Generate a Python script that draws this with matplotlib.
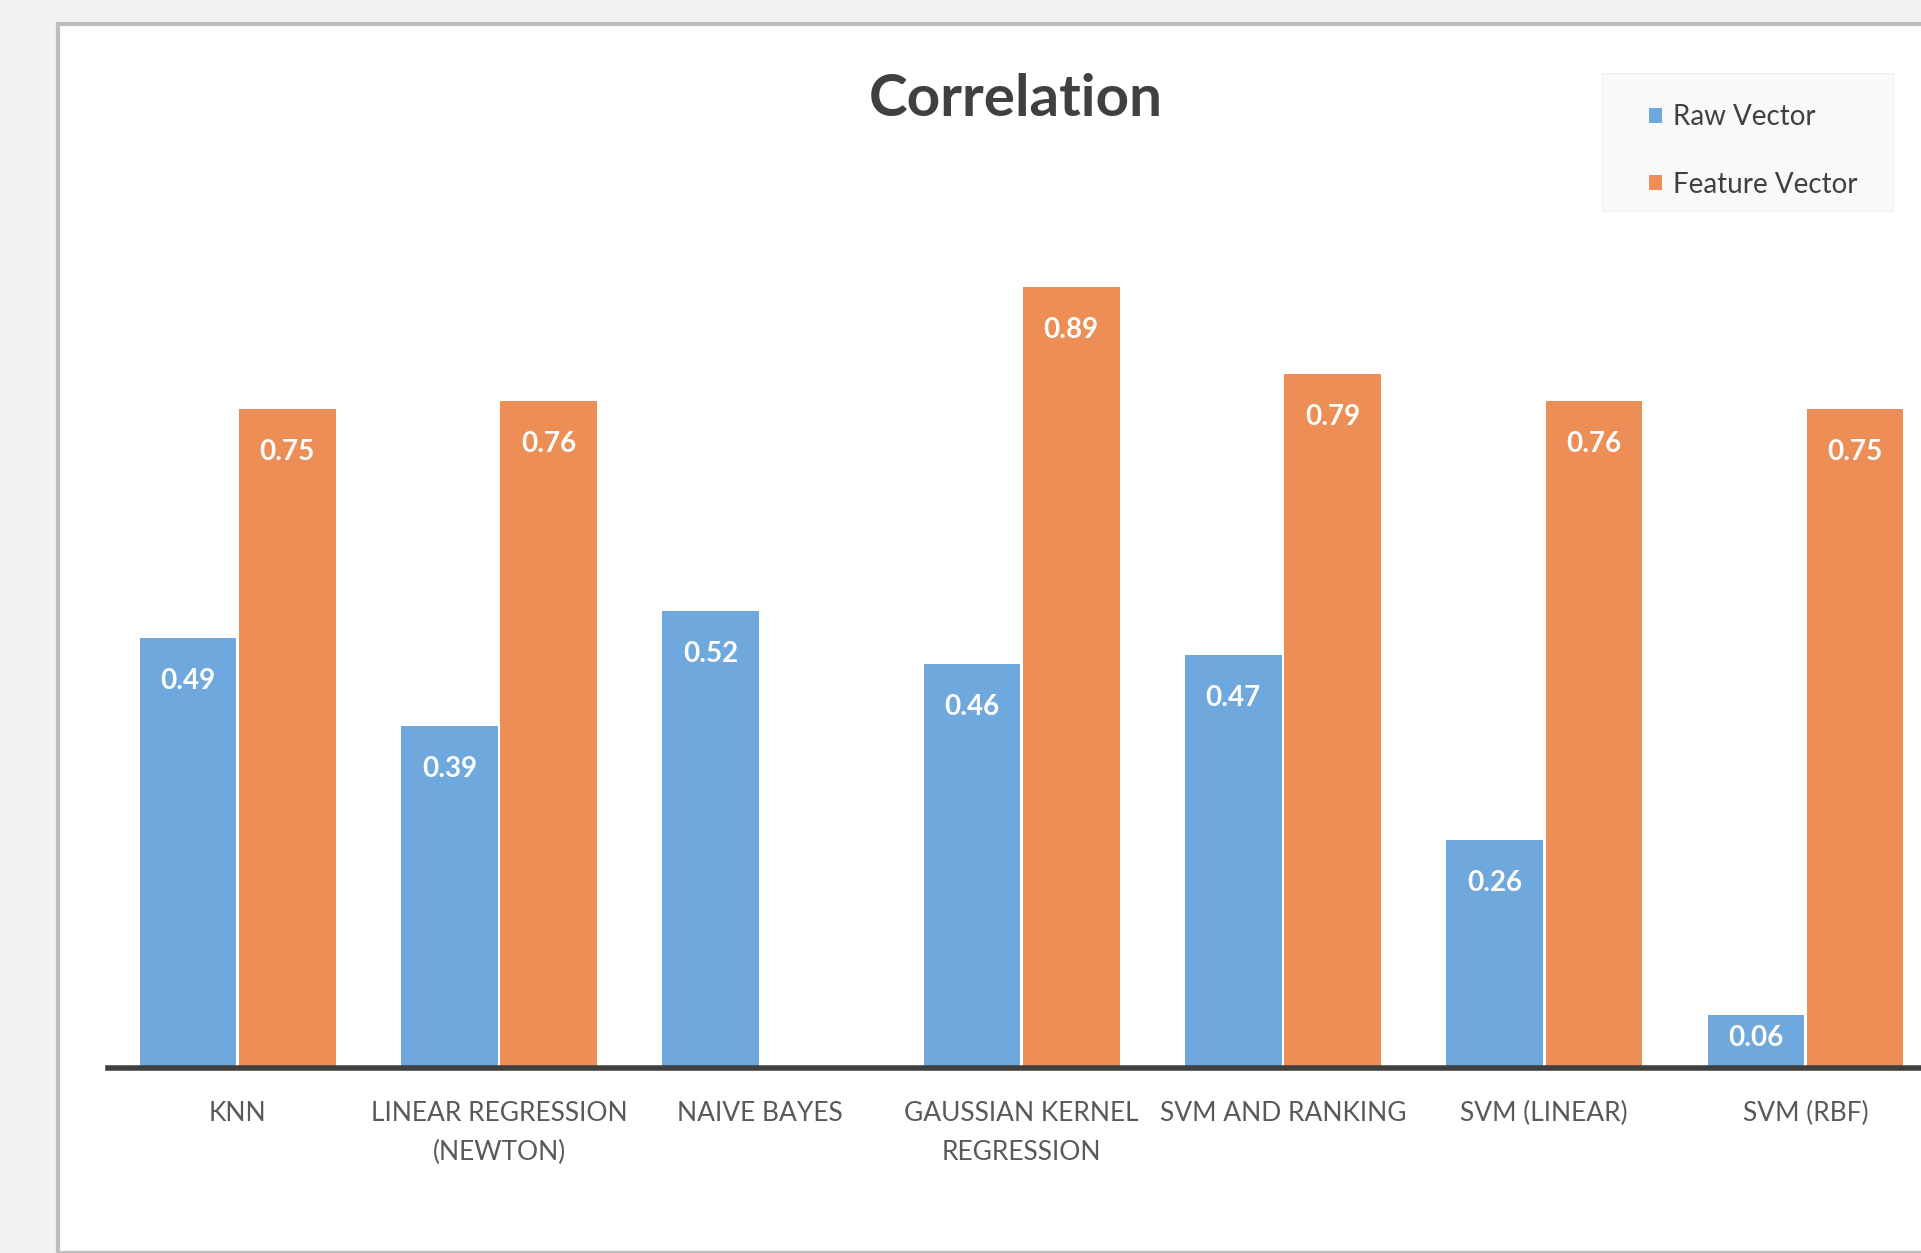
import numpy as np
import matplotlib
matplotlib.use("Agg")
from matplotlib import pyplot as plt
from matplotlib.patches import Rectangle

categories = ["KNN", "LINEAR REGRESSION\n(NEWTON)", "NAIVE BAYES",
              "GAUSSIAN KERNEL\nREGRESSION", "SVM AND RANKING",
              "SVM (LINEAR)", "SVM (RBF)"]
raw_vector = [0.49, 0.39, 0.52, 0.46, 0.47, 0.26, 0.06]
feature_vector = [0.75, 0.76, None, 0.89, 0.79, 0.76, 0.75]

blue = "#6FA8DC"
orange = "#EC8E56"

plt.rcParams['font.family'] = ['Lato', 'DejaVu Sans']

W, H = 1921, 1253
fig = plt.figure(figsize=(W / 100, H / 100), dpi=100)
fig.patch.set_facecolor("#f2f2f2")

# white chart panel with grey border
panel = Rectangle((58 / W, 0), 1 - 58 / W + 0.01, 1 - 24 / H,
                  transform=fig.transFigure, facecolor="white",
                  edgecolor="#bdbdbd", linewidth=3, zorder=-1)
fig.patches.append(panel)

# legend background box
legbox = Rectangle((1602 / W, 1 - 211 / H), 291 / W, 138 / H,
                   transform=fig.transFigure, facecolor="#f9f9f9",
                   edgecolor="#f0f0f0", linewidth=1, zorder=-0.5)
fig.patches.append(legbox)

base_y = 1068
px_per_unit = 878
top_y = 215
ax = fig.add_axes([108 / W, 1 - base_y / H, 1 - 108 / W, (base_y - top_y) / H])
ax.set_facecolor("none")
ax.set_ylim(0, (base_y - top_y) / px_per_unit)

x = np.arange(len(categories))
bw = 0.37
gap = 0.005
left_edge = (108 - 237.7) / 261.3
ax.set_xlim(left_edge, left_edge + (W - 108) / 261.3)

raw_vals = np.array(raw_vector, dtype=float)
feat_vals = np.array([np.nan if v is None else v for v in feature_vector], dtype=float)

b1 = ax.bar(x - bw / 2 - gap, raw_vals, bw, color=blue, label="Raw Vector", zorder=2)
b2 = ax.bar(x + bw / 2 + gap, feat_vals, bw, color=orange, label="Feature Vector", zorder=2)

for bars, vals in ((b1, raw_vals), (b2, feat_vals)):
    for rect, v in zip(bars, vals):
        if np.isnan(v):
            continue
        # label sits inside the bar end; short bars push it closer to the top
        off = min(43, v * px_per_unit - 30)
        ax.annotate(f"{v:.2f}", (rect.get_x() + rect.get_width() / 2, v),
                    xytext=(0, -off), textcoords="offset pixels",
                    ha="center", va="center", color="white",
                    fontsize=20, fontweight="bold", zorder=3)

for s in ["top", "right", "left"]:
    ax.spines[s].set_visible(False)
ax.spines["bottom"].set_color("#404040")
ax.spines["bottom"].set_linewidth(4)
ax.set_yticks([])
ax.set_xticks(x)
ax.set_xticklabels(categories, fontsize=19, color="#595959", linespacing=1.7,
                   va="top")
ax.tick_params(axis="x", length=0, pad=24)

fig.text(1016 / W, 1 - 99 / H, "Correlation", ha="center", va="center",
         fontsize=42, fontweight="bold", color="#404040")

leg = ax.legend(loc="upper left", bbox_to_anchor=(1649 / W, 1 - 104 / H),
                bbox_transform=fig.transFigure, frameon=False, fontsize=20,
                handlelength=0.45, handleheight=0.45, handletextpad=0.4,
                labelspacing=1.5, borderpad=0, borderaxespad=0,
                labelcolor="#404040")

fig.savefig("out.png", dpi=100, facecolor=fig.get_facecolor())
